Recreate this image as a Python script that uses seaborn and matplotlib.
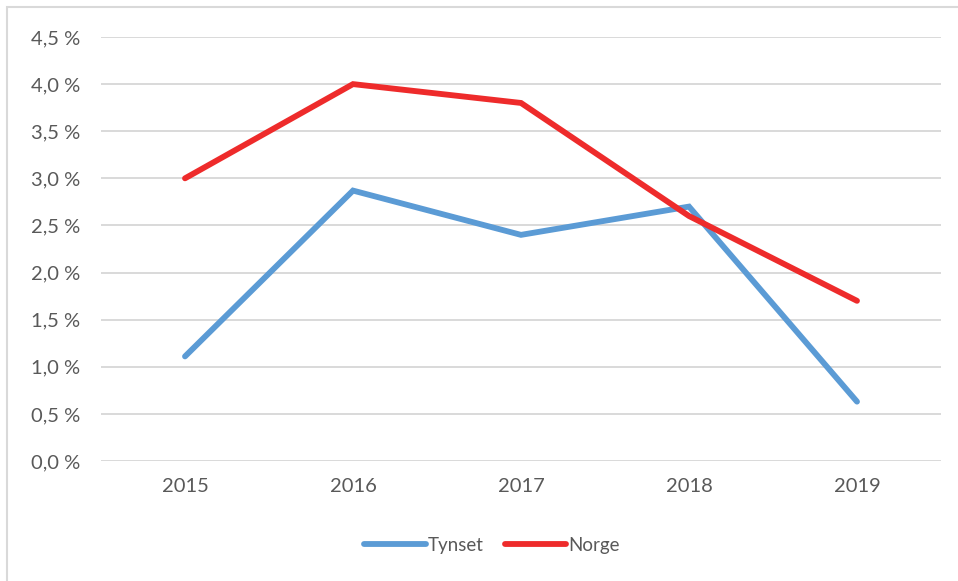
import matplotlib
matplotlib.use("Agg")
import matplotlib.pyplot as plt
import seaborn as sns
import pandas as pd
from matplotlib.ticker import FuncFormatter
from matplotlib.patches import Rectangle

years = ["2015", "2016", "2017", "2018", "2019"]
tynset = [1.11, 2.87, 2.40, 2.70, 0.63]
norge = [3.00, 4.00, 3.80, 2.60, 1.70]
series_names = ["Tynset", "Norge"]
colors = ["#5B9BD5", "#EE2B2B"]
yticks = [0.0, 0.5, 1.0, 1.5, 2.0, 2.5, 3.0, 3.5, 4.0, 4.5]

df = pd.DataFrame({
    "year": years * 2,
    "x": list(range(len(years))) * 2,
    "value": tynset + norge,
    "series": [series_names[0]] * len(years) + [series_names[1]] * len(years),
})

sns.set_theme(style="white")
plt.rcParams["font.family"] = ["Lato", "DejaVu Sans"]

fig = plt.figure(figsize=(9.58, 5.81), dpi=100)
ax = fig.add_axes([101 / 958, 1 - 461 / 581, (941 - 101) / 958, (461 - 37) / 581])

lw = 4.2
sns.lineplot(data=df, x="x", y="value", hue="series", palette=colors,
             linewidth=lw, ax=ax, legend=True, sort=False)
for ln in ax.get_lines():
    ln.set_solid_capstyle("round")
    ln.set_solid_joinstyle("miter")

ax.set_xlim(-0.5, len(years) - 0.5)
ax.set_ylim(0, 4.5)
ax.set_yticks(yticks)
ax.yaxis.set_major_formatter(FuncFormatter(lambda v, p: f"{v:.1f} %".replace(".", ",")))
ax.set_xticks(range(len(years)))
ax.set_xticklabels(years)
ax.grid(axis="y", color="#D9D9D9", linewidth=1.4)
ax.set_axisbelow(True)
for s in ax.spines.values():
    s.set_visible(False)
ax.tick_params(axis="both", length=0, labelsize=14.5, labelcolor="#595959")
ax.tick_params(axis="y", pad=15)
ax.tick_params(axis="x", pad=12)
ax.set_xlabel("")
ax.set_ylabel("")

handles, labels = ax.get_legend_handles_labels()
for h in handles:
    h.set_linewidth(lw)
    h.set_solid_capstyle("round")
leg = ax.legend(handles, labels, loc="center",
                bbox_to_anchor=((492 - 101) / 840, (461 - 545) / (461 - 37)),
                ncol=2, frameon=False, fontsize=13.5, handlelength=3.3, handletextpad=0.1,
                columnspacing=1.1)
for t in leg.get_texts():
    t.set_color("#595959")

fig.patches.append(Rectangle((7 / 958, -0.05), 1.2, 1 - 7 / 581 + 0.05, transform=fig.transFigure,
                             fill=False, edgecolor="#D9D9D9", linewidth=1.5))

fig.savefig("out.png", dpi=100)
